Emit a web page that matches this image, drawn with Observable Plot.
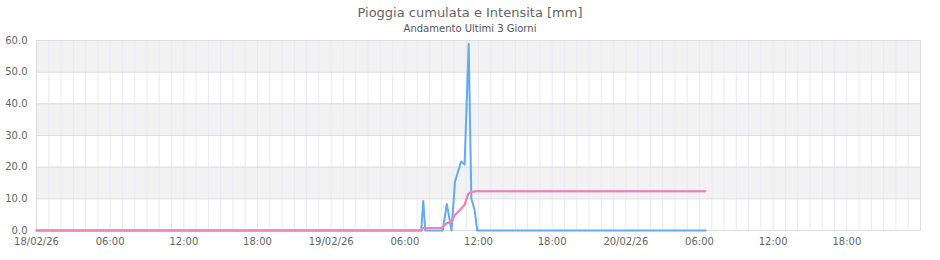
<!DOCTYPE html>
<html>
<head>
<meta charset="utf-8">
<script src="https://cdn.jsdelivr.net/npm/d3@7"></script>
<script src="https://cdn.jsdelivr.net/npm/@observablehq/plot@0.6"></script>
<style>
  html, body { margin: 0; padding: 0; background: #fff; }
  body { width: 940px; font-family: "DejaVu Sans", sans-serif; }
  #title { padding-top: 3px; height: 20px; line-height: 20px; font-size: 13px; color: #666; text-align: center; }
  #subtitle { height: 12px; line-height: 12px; font-size: 10px; color: #555; text-align: center; }
</style>
</head>
<body>
<div id="title">Pioggia cumulata e Intensita [mm]</div>
<div id="subtitle">Andamento Ultimi 3 Giorni</div>
<div id="chart"></div>
<script>
// ---- Data ----
const xStart = "2026-02-18T00:00Z";
const xEnd = "2026-02-21T00:00Z";

// Intensita (blue) — key points
const intensTimes = [
  "2026-02-18T00:00Z", "2026-02-19T07:20Z", "2026-02-19T07:30Z", "2026-02-19T07:40Z",
  "2026-02-19T09:05Z", "2026-02-19T09:25Z", "2026-02-19T09:48Z", "2026-02-19T10:05Z",
  "2026-02-19T10:35Z", "2026-02-19T10:52Z", "2026-02-19T11:12Z", "2026-02-19T11:25Z",
  "2026-02-19T11:40Z", "2026-02-19T11:54Z", "2026-02-20T06:30Z"
];
const intensValues = [0, 0, 9.3, 0, 0, 8.4, 0, 15.4, 21.8, 20.8, 59.0, 10.0, 6.8, 0, 0];

// Pioggia cumulata (pink)
const cumTimes = [
  "2026-02-18T00:00Z", "2026-02-19T07:20Z", "2026-02-19T07:30Z", "2026-02-19T09:00Z",
  "2026-02-19T09:24Z", "2026-02-19T09:47Z", "2026-02-19T10:04Z", "2026-02-19T10:52Z",
  "2026-02-19T11:09Z", "2026-02-19T11:22Z", "2026-02-19T11:44Z", "2026-02-20T06:30Z"
];
const cumValues = [0, 0, 0.8, 0.8, 2.3, 2.7, 4.8, 8.1, 11.5, 12.1, 12.4, 12.4];

const yTicks = [0, 10, 20, 30, 40, 50, 60];
const bandRanges = [[50, 60], [30, 40], [10, 20]];
const xTickLabels = [
  "2026-02-18T00:00Z", "2026-02-18T06:00Z", "2026-02-18T12:00Z", "2026-02-18T18:00Z",
  "2026-02-19T00:00Z", "2026-02-19T06:00Z", "2026-02-19T12:00Z", "2026-02-19T18:00Z",
  "2026-02-20T00:00Z", "2026-02-20T06:00Z", "2026-02-20T12:00Z", "2026-02-20T18:00Z"
];

// ---- Build ----
const parse = s => new Date(s);
const intens = intensTimes.map((t, i) => ({t: parse(t), v: intensValues[i]}));
const cum = cumTimes.map((t, i) => ({t: parse(t), v: cumValues[i]}));
const x0 = parse(xStart), x1 = parse(xEnd);
const bands = bandRanges.map(([a, b]) => ({y1: a, y2: b}));
const hours = d3.utcHour.range(d3.utcHour.offset(x0, 1), x1);
const xTicks = xTickLabels.map(parse);
const fmtDay = d3.utcFormat("%d/%m/%y"), fmtHour = d3.utcFormat("%H:%M");
const fmtX = d => (d.getUTCHours() === 0 ? fmtDay(d) : fmtHour(d));

const chart = Plot.plot({
  width: 940,
  height: 225,
  marginTop: 5,
  marginBottom: 30,
  marginLeft: 36,
  marginRight: 20,
  style: {fontFamily: "DejaVu Sans, sans-serif", fontSize: "10px", color: "#666", background: "#fff"},
  x: {type: "utc", domain: [x0, x1]},
  y: {domain: [0, 60]},
  marks: [
    Plot.rect(bands, {x1: () => x0, x2: () => x1, y1: "y1", y2: "y2", fill: "#f2f2f2"}),
    Plot.ruleX(hours, {stroke: "#e9e9f8", strokeWidth: 1}),
    Plot.ruleY(yTicks, {stroke: "#dddddd", strokeWidth: 1}),
    Plot.frame({stroke: "#dddddd"}),
    Plot.axisY({ticks: yTicks, tickFormat: d => d.toFixed(1), tickSize: 0, tickPadding: 9, label: null, fill: "#666"}),
    Plot.axisX({ticks: xTicks, tickFormat: fmtX, tickSize: 0, tickPadding: 7, label: null, fill: "#666"}),
    Plot.line(intens, {x: "t", y: "v", stroke: "#62abf2", strokeWidth: 2}),
    Plot.line(cum, {x: "t", y: "v", stroke: "#f5a3c9", strokeWidth: 2}),
    Plot.line(cum, {x: "t", y: "v", stroke: "#ee7fb6", strokeWidth: 2, strokeDasharray: "1.5,1.5"})
  ]
});
document.getElementById("chart").appendChild(chart);
</script>
</body>
</html>
